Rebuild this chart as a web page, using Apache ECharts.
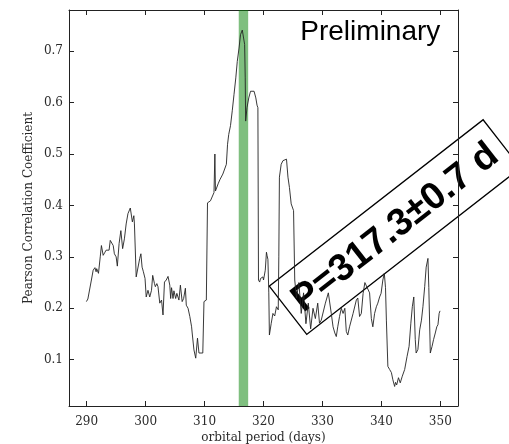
<!DOCTYPE html>
<html>
<head>
<meta charset="utf-8">
<script src="https://cdn.jsdelivr.net/npm/echarts@6/dist/echarts.min.js"></script>
<style>
  html, body { margin: 0; padding: 0; background: #fff; }
  #chart { width: 509px; height: 444px; }
</style>
</head>
<body>
<div id="chart"></div>
<script>
// Trial orbital periods (days) and the Pearson correlation found at each one
const periods = [
  289.95, 290.2, 290.4, 290.8, 291.1, 291.4, 291.6, 291.7, 292.0, 292.3,
  292.5, 292.8, 293.1, 293.3, 293.8, 294.0, 294.5, 294.7, 295.0, 295.2,
  295.5, 295.8, 296.1, 296.4, 296.7, 297.0, 297.4, 297.75, 298.0, 298.1,
  298.4, 298.7, 299.0, 299.2, 299.4, 299.6, 299.9, 300.1, 300.4, 300.7,
  301.0, 301.2, 301.5, 301.65, 301.9, 302.1, 302.4, 302.7, 302.95, 303.2,
  303.5, 303.8, 304.1, 304.25, 304.4, 304.65, 304.8, 305.1, 305.3, 305.65,
  305.9, 306.2, 306.45, 306.75, 306.9, 307.2, 307.5, 307.8, 307.9, 308.2,
  308.5, 308.8, 309.05, 309.3, 309.7, 309.9, 310.3, 310.5, 310.6, 311.0,
  311.3, 311.6, 311.75, 311.85, 312.0, 312.3, 312.6, 313.1, 313.7, 313.9,
  314.1, 314.4, 314.7, 315.0, 315.3, 315.55, 315.85, 316.1, 316.4, 316.7,
  316.8, 316.9, 316.97, 317.2, 317.5, 317.8, 318.05, 318.4, 318.7, 318.9,
  319.05, 319.15, 319.35, 319.5, 319.9, 320.0, 320.3, 320.5, 320.6, 320.75,
  320.9, 321.0, 321.3, 321.6, 321.9, 322.2, 322.5, 322.6, 322.7, 323.0,
  323.3, 323.6, 323.9, 324.15, 324.4, 324.7, 325.0, 325.1, 325.3, 325.6,
  326.0, 326.4, 326.8, 327.2, 327.6, 328.0, 328.4, 328.8, 329.2, 329.5,
  329.8, 330.1, 330.5, 331.0, 331.5, 331.8, 332.1, 332.35, 332.6, 332.9,
  333.2, 333.5, 333.8, 334.05, 334.3, 334.6, 335.2, 335.75, 336.0, 336.3,
  336.6, 336.9, 337.2, 337.6, 338.0, 338.3, 338.55, 338.85, 339.15, 339.4,
  339.7, 339.95, 340.25, 340.5, 340.7, 340.85, 341.1, 341.4, 341.7, 341.95,
  342.25, 342.4, 342.6, 342.9, 343.2, 343.55, 343.95, 344.35, 344.7, 345.0,
  345.25, 345.5, 345.75, 345.9, 346.2, 346.5, 346.8, 347.05, 347.35, 347.6,
  347.9, 348.05, 348.3, 348.6, 348.85, 349.15, 349.4, 349.6, 349.8, 349.95
];
const correlation = [
  0.213, 0.218, 0.221, 0.255, 0.274, 0.279, 0.271, 0.277, 0.268, 0.300,
  0.322, 0.303, 0.309, 0.313, 0.313, 0.332, 0.322, 0.306, 0.300, 0.282,
  0.326, 0.351, 0.316, 0.335, 0.364, 0.384, 0.395, 0.368, 0.380, 0.364,
  0.261, 0.258, 0.297, 0.306, 0.280, 0.272, 0.258, 0.222, 0.235, 0.222,
  0.235, 0.264, 0.248, 0.242, 0.248, 0.242, 0.210, 0.216, 0.187, 0.251,
  0.255, 0.262, 0.245, 0.219, 0.240, 0.219, 0.234, 0.219, 0.229, 0.216,
  0.245, 0.213, 0.219, 0.239, 0.206, 0.200, 0.184, 0.164, 0.152, 0.119,
  0.103, 0.142, 0.113, 0.116, 0.113, 0.213, 0.216, 0.405, 0.403, 0.409,
  0.410, 0.425, 0.500, 0.428, 0.426, 0.442, 0.450, 0.461, 0.480, 0.519,
  0.538, 0.555, 0.584, 0.616, 0.648, 0.680, 0.706, 0.732, 0.741, 0.738,
  0.713, 0.648, 0.564, 0.590, 0.609, 0.622, 0.625, 0.622, 0.609, 0.595,
  0.590, 0.255, 0.251, 0.258, 0.261, 0.255, 0.274, 0.309, 0.303, 0.295,
  0.230, 0.148, 0.170, 0.190, 0.185, 0.203, 0.197, 0.300, 0.455, 0.480,
  0.487, 0.485, 0.490, 0.455, 0.435, 0.403, 0.400, 0.390, 0.255, 0.220,
  0.250, 0.190, 0.230, 0.170, 0.210, 0.160, 0.200, 0.180, 0.210, 0.171,
  0.177, 0.177, 0.210, 0.230, 0.190, 0.164, 0.152, 0.145, 0.164, 0.184,
  0.200, 0.190, 0.200, 0.155, 0.148, 0.164, 0.190, 0.216, 0.220, 0.184,
  0.190, 0.229, 0.250, 0.240, 0.230, 0.180, 0.164, 0.190, 0.203, 0.210,
  0.222, 0.229, 0.255, 0.268, 0.240, 0.177, 0.087, 0.081, 0.075, 0.061,
  0.048, 0.056, 0.051, 0.065, 0.055, 0.068, 0.081, 0.106, 0.126, 0.171,
  0.203, 0.222, 0.139, 0.113, 0.120, 0.158, 0.177, 0.203, 0.242, 0.280,
  0.297, 0.240, 0.113, 0.126, 0.139, 0.152, 0.164, 0.168, 0.190, 0.195
];

// Tick positions
const xTicks = [290, 300, 310, 320, 330, 340, 350];
const yTicks = [0.1, 0.2, 0.3, 0.4, 0.5, 0.6, 0.7];

// Shaded range around the best-fit period
const bandRange = [315.8, 317.4];
const periodLabel = 'P=317.3±0.7 d';
const watermark = 'Preliminary';

const serif = '"DejaVu Serif", serif';
const sans = '"Liberation Sans", Arial, sans-serif';

const chart = echarts.init(document.getElementById('chart'), null, { renderer: 'canvas' });

const xRange = { min: 287, max: 353 };
const yRange = { min: 0.01, max: 0.78 };

function xAxisDef(pos, showLabels) {
  return {
    type: 'value', position: pos, ...xRange,
    axisLine: { show: true, onZero: false, lineStyle: { color: '#222', width: 1 } },
    axisTick: { show: true, inside: true, length: 5, customValues: xTicks, lineStyle: { color: '#222', width: 1 } },
    axisLabel: { show: showLabels, customValues: xTicks, fontFamily: serif, fontSize: 12, color: '#2a2a2a', margin: 10 },
    splitLine: { show: false },
    name: showLabels ? 'orbital period (days)' : '',
    nameLocation: 'middle', nameGap: 26, nameMoveOverlap: false,
    nameTextStyle: { fontFamily: serif, fontSize: 12, color: '#2a2a2a' }
  };
}
function yAxisDef(pos, showLabels) {
  return {
    type: 'value', position: pos, ...yRange,
    axisLine: { show: true, onZero: false, lineStyle: { color: '#222', width: 1 } },
    axisTick: { show: true, inside: true, length: 5, customValues: yTicks, lineStyle: { color: '#222', width: 1 } },
    axisLabel: { show: showLabels, customValues: yTicks, fontFamily: serif, fontSize: 12, color: '#2a2a2a', margin: 6,
                 formatter: v => v.toFixed(1) },
    splitLine: { show: false },
    name: showLabels ? 'Pearson Correlation Coefficient' : '',
    nameLocation: 'middle', nameGap: 34, nameMoveOverlap: false,
    nameTextStyle: { fontFamily: serif, fontSize: 12, color: '#2a2a2a' }
  };
}

const option = {
  animation: false,
  backgroundColor: '#fff',
  grid: { left: 69, right: 51, top: 10, bottom: 38, containLabel: false, outerBoundsMode: 'none' },
  xAxis: [xAxisDef('bottom', true), xAxisDef('top', false)],
  yAxis: [yAxisDef('left', true), yAxisDef('right', false)],
  series: [{
    type: 'line',
    xAxisIndex: 0, yAxisIndex: 0,
    data: periods.map((p, i) => [p, correlation[i]]),
    showSymbol: false,
    lineStyle: { color: '#222', width: 0.9 },
    z: 3,
    markArea: {
      silent: true,
      itemStyle: { color: 'rgba(0,128,0,0.5)' },
      data: [[{ xAxis: bandRange[0] }, { xAxis: bandRange[1] }]]
    }
  }]
};
chart.setOption(option);

// Annotations: watermark and rotated period box, anchored in data space
const wm = chart.convertToPixel({ xAxisIndex: 0, yAxisIndex: 0 }, [350, 0.7646]);
const boxCenter = chart.convertToPixel({ xAxisIndex: 0, yAxisIndex: 0 }, [342.3, 0.358]);
chart.setOption({
  graphic: [
    {
      type: 'text', x: wm[0], y: wm[1], z: 10,
      style: { text: watermark, font: '28px ' + sans, fill: '#000', align: 'right', verticalAlign: 'top' }
    },
    {
      type: 'group', x: boxCenter[0], y: boxCenter[1], rotation: 37.9 * Math.PI / 180, z: 20,
      children: [
        { type: 'rect', shape: { x: -135.5, y: -30.5, width: 271, height: 61 },
          style: { fill: '#fff', stroke: '#000', lineWidth: 1.3 } },
        { type: 'text', x: 0, y: 1,
          style: { text: periodLabel, font: 'bold 38px ' + sans, fill: '#000', align: 'center', verticalAlign: 'middle' } }
      ]
    }
  ]
});
</script>
</body>
</html>
